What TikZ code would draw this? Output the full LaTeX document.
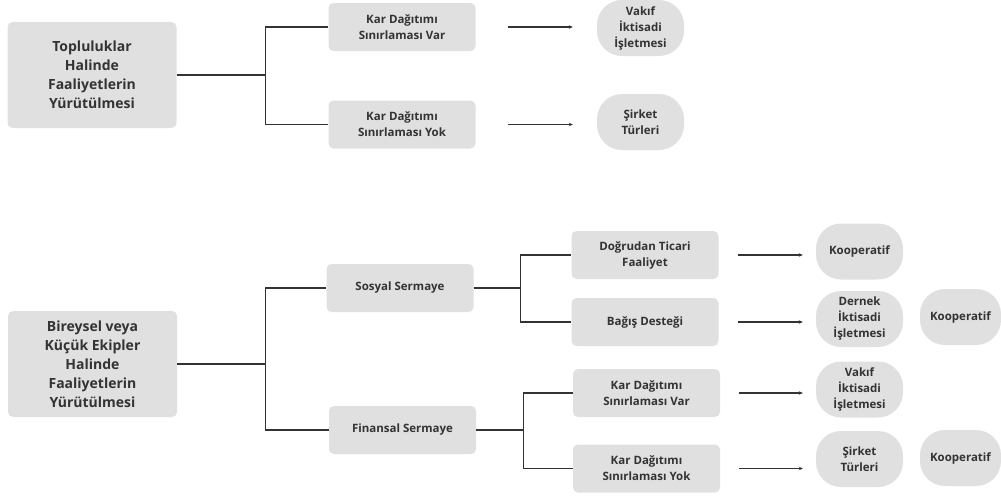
\documentclass[tikz,border=0pt]{standalone}
\usepackage{fontspec}
\setmainfont{Open Sans}
\usetikzlibrary{arrows.meta}
\definecolor{boxgray}{HTML}{E0E0E0}
\definecolor{inkgray}{HTML}{333333}
\begin{document}
\begin{tikzpicture}[x=1pt,y=-1pt]
    \tikzset{
        box/.style={rectangle,rounded corners=5pt,fill=boxgray,text=inkgray,align=center,
            font=\bfseries\fontsize{11.5}{16}\selectfont,inner sep=0pt,
            minimum width=147pt,minimum height=48pt},
        bigbox/.style={box,font=\bfseries\fontsize{14}{19}\selectfont,
            minimum width=169pt,minimum height=106pt},
        oval/.style={box,rounded corners=25pt,minimum width=87pt,minimum height=56pt},
        edge/.style={draw=inkgray,line width=1.1pt},
        arr/.style={draw=inkgray,line width=1.1pt,-{Stealth[length=4pt,width=3.5pt]}}
    }
    \useasboundingbox (0,0) rectangle (1001,498);

    % first group
    \node[bigbox] (top) at (92,75) {Topluluklar\\Halinde\\Faaliyetlerin\\Yürütülmesi};
    \node[box] (kv1) at (402,27) {Kar Dağıtımı\\Sınırlaması Var};
    \node[box] (ky1) at (402,124.5) {Kar Dağıtımı\\Sınırlaması Yok};
    \node[oval] (vk1) at (640.5,28) {Vakıf\\İktisadi\\İşletmesi};
    \node[oval] (st1) at (640.5,122) {Şirket\\Türleri};

    % second group
    \node[bigbox] (bir) at (92.5,364) {Bireysel veya\\Küçük Ekipler\\Halinde\\Faaliyetlerin\\Yürütülmesi};
    \node[box] (sos) at (400,288) {Sosyal Sermaye};
    \node[box] (fin) at (402.5,430) {Finansal Sermaye};
    \node[box] (dog) at (645,255) {Doğrudan Ticari\\Faaliyet};
    \node[box] (bag) at (645,322) {Bağış Desteği};
    \node[box] (kv2) at (646.5,393) {Kar Dağıtımı\\Sınırlaması Var};
    \node[box] (ky2) at (646.5,468.5) {Kar Dağıtımı\\Sınırlaması Yok};

    \node[oval] (koop1) at (859.5,251.5) {Kooperatif};
    \node[oval] (der) at (859.5,319) {Dernek\\İktisadi\\İşletmesi};
    \node[oval,minimum width=81pt] (koop2) at (960.5,317) {Kooperatif};
    \node[oval] (vk2) at (859.5,389.5) {Vakıf\\İktisadi\\İşletmesi};
    \node[oval] (st2) at (859.5,459) {Şirket\\Türleri};
    \node[oval,minimum width=81pt] (koop3) at (960.5,458) {Kooperatif};

    % tree lines
    \foreach \j in {kv1,ky1}{
            \draw[edge] (top.east) -- ++(89,0) |- (\j.west);
        }
    \foreach \j in {sos,fin}{
            \draw[edge] (bir.east) -- ++(88,0) |- (\j.west);
        }
    \foreach \j in {dog,bag}{
            \draw[edge] (sos.east) -- ++(47,0) |- (\j.west);
        }
    \foreach \j in {kv2,ky2}{
            \draw[edge] (fin.east) -- ++(47,0) |- (\j.west);
        }

    % arrows
    \draw[arr] ([xshift=32pt]kv1.east) -- ([xshift=-24pt]kv1.east -| vk1.west);
    \draw[arr] ([xshift=32pt]ky1.east) -- ([xshift=-24pt]ky1.east -| st1.west);
    \draw[arr] ([xshift=19pt]dog.east) -- ([xshift=-13pt]dog.east -| koop1.west);
    \draw[arr] ([xshift=19pt]bag.east) -- ([xshift=-13pt]bag.east -| der.west);
    \draw[arr] ([xshift=19pt]kv2.east) -- ([xshift=-13pt]kv2.east -| vk2.west);
    \draw[arr] ([xshift=19pt]ky2.east) -- ([xshift=-13pt]ky2.east -| st2.west);
\end{tikzpicture}
\end{document}
